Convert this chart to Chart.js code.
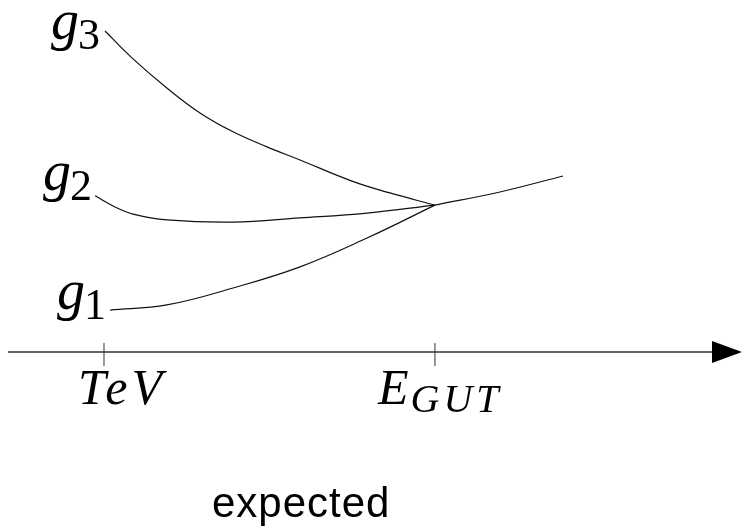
<!DOCTYPE html>
<html>
<head>
<meta charset="utf-8">
<script src="https://cdn.jsdelivr.net/npm/chart.js@4.4.1/dist/chart.umd.min.js"></script>
<style>
  html, body { margin: 0; padding: 0; background: #fff; }
  #wrap { width: 742px; height: 527px; }
</style>
</head>
<body>
<div id="wrap"><canvas id="running" width="742" height="527"></canvas></div>
<script>
// log energy on x, coupling on y (axis sits at coupling 0)
const g1Energy = [3.24, 5.47, 8.07, 10.70, 13.33, 16.0];
const g1Value  = [1.31, 1.47, 2.0, 2.66, 3.56, 4.59];

const g2Energy = [2.65, 3.43, 4.14, 5.47, 8.07, 10.70, 13.33, 16.0];
const g2Value  = [4.88, 4.53, 4.31, 4.13, 4.06, 4.19, 4.34, 4.59];

const g3Energy = [3.04, 4.14, 5.47, 6.77, 8.07, 9.40, 10.70, 12.74, 14.23, 16.0];
const g3Value  = [10.03, 9.16, 8.25, 7.47, 6.88, 6.41, 6.0, 5.34, 4.97, 4.59];

// unified coupling above the GUT scale
const gutEnergy = [16.0, 18.55, 21.03];
const gutValue  = [4.59, 5.0, 5.5];

const tickValues = [3, 16];
const tickLabels = [["TeV", ""], ["E", "GUT"]];
const curveNames = ["1", "2", "3"];
const caption = "expected";

const toPoints = (xs, ys) => xs.map((x, i) => ({ x, y: ys[i] }));

const curve = (label, data) => ({
  label,
  data,
  showLine: true,
  borderColor: "#111",
  borderWidth: 1.2,
  pointRadius: 0,
  tension: 0.4,
  fill: false
});

// axis with arrow, ticks, math-ish labels, caption
const sketchPlugin = {
  id: "sketch",
  afterDatasetsDraw(chart) {
    const { ctx, scales: { x, y }, chartArea } = chart;
    const y0 = y.getPixelForValue(0);
    ctx.save();

    // horizontal axis
    ctx.strokeStyle = "#333";
    ctx.lineWidth = 1.5;
    ctx.beginPath();
    ctx.moveTo(chartArea.left + 8, y0);
    ctx.lineTo(chartArea.right - 26, y0);
    ctx.stroke();
    ctx.fillStyle = "#000";
    ctx.beginPath();
    ctx.moveTo(chartArea.right - 30, y0 - 11);
    ctx.lineTo(chartArea.right, y0);
    ctx.lineTo(chartArea.right - 30, y0 + 11);
    ctx.closePath();
    ctx.fill();

    // ticks + labels
    const labelShift = [-26, -57];
    tickValues.forEach((v, i) => {
      const px = x.getPixelForValue(v);
      ctx.strokeStyle = "#333";
      ctx.lineWidth = 1;
      ctx.beginPath();
      ctx.moveTo(px, y0 - 9);
      ctx.lineTo(px, y0 + 14);
      ctx.stroke();

      const [main, sub] = tickLabels[i];
      ctx.fillStyle = "#000";
      ctx.textAlign = "left";
      ctx.textBaseline = "alphabetic";
      ctx.letterSpacing = "4px";
      ctx.font = "italic 50px 'Liberation Serif'";
      const left = px + labelShift[i];
      ctx.fillText(main, left, y0 + 52);
      if (sub) {
        const w = ctx.measureText(main).width;
        ctx.letterSpacing = "4px";
        ctx.font = "italic 40px 'Liberation Serif'";
        ctx.fillText(sub, left + w - 2, y0 + 60);
      }
      ctx.letterSpacing = "0px";
    });

    // g_i labels left of each curve's start
    const labelOffset = [
      { dx: -4, dy: -1 },
      { dx: -3, dy: -6 },
      { dx: -5, dy: 8 }
    ];
    [0, 1, 2].forEach(i => {
      const p = chart.getDatasetMeta(i).data[0];
      const off = labelOffset[i];
      const right = p.x + off.dx;
      const base = p.y + off.dy;
      ctx.fillStyle = "#000";
      ctx.textAlign = "left";
      ctx.textBaseline = "alphabetic";
      ctx.font = "44px 'Liberation Serif'";
      const wd = ctx.measureText(curveNames[i]).width;
      ctx.fillText(curveNames[i], right - wd, base + 10);
      ctx.font = "italic 56px 'Liberation Serif'";
      const wg = ctx.measureText("g").width;
      ctx.fillText("g", right - wd - wg + 1, base);
    });

    // caption
    ctx.font = "42px 'Liberation Sans'";
    ctx.letterSpacing = "1px";
    ctx.textAlign = "left";
    ctx.fillText(caption, 212, 517);
    ctx.restore();
  }
};

new Chart(document.getElementById("running"), {
  type: "scatter",
  data: {
    datasets: [
      curve("g1", toPoints(g1Energy, g1Value)),
      curve("g2", toPoints(g2Energy, g2Value)),
      curve("g3", toPoints(g3Energy, g3Value)),
      curve("gut", toPoints(gutEnergy, gutValue))
    ]
  },
  options: {
    responsive: false,
    devicePixelRatio: 1,
    animation: false,
    layout: { padding: 0 },
    scales: {
      x: { type: "linear", min: -1.085, max: 28.06, display: false },
      y: { type: "linear", min: -5.47, max: 11, display: false }
    },
    plugins: {
      legend: { display: false },
      tooltip: { enabled: false },
      title: { display: false }
    }
  },
  plugins: [sketchPlugin]
});
</script>
</body>
</html>
